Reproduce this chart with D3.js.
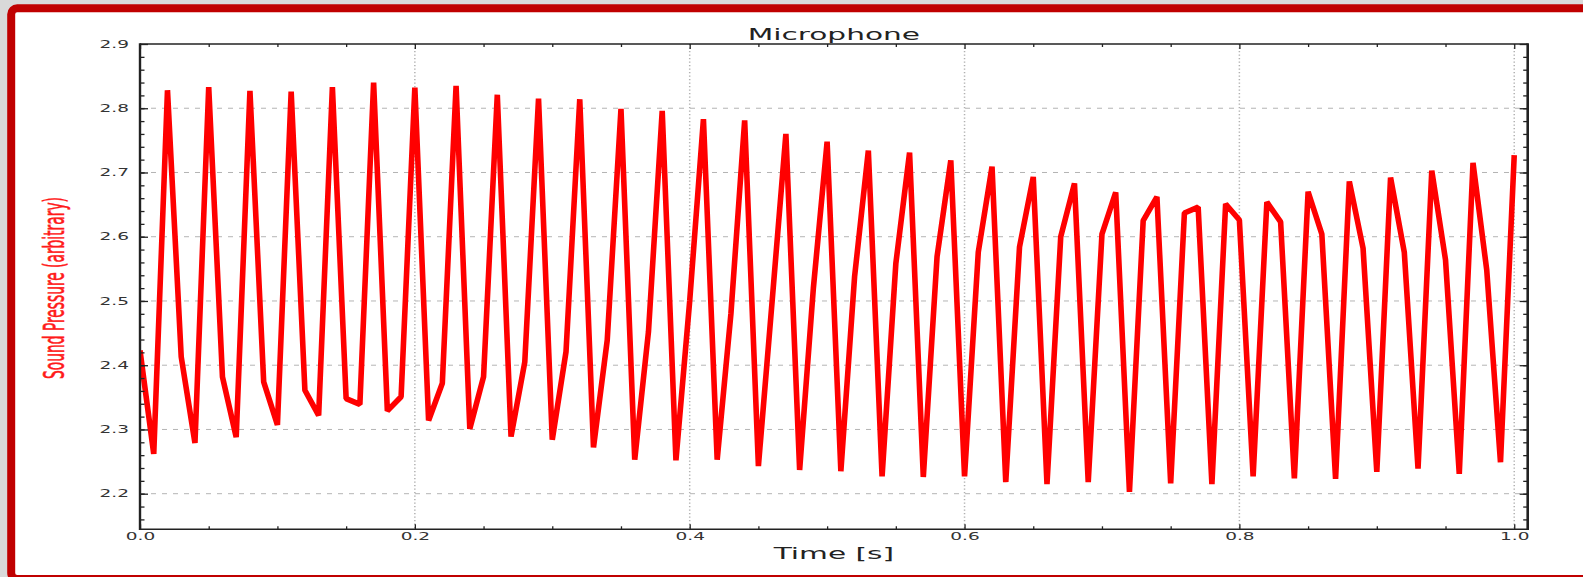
<!DOCTYPE html>
<html>
<head>
<meta charset="utf-8">
<script src="https://cdn.jsdelivr.net/npm/d3@7"></script>
<style>
  html, body { margin: 0; padding: 0; background: #d9d9d9; overflow: hidden; }
  svg { display: block; }
  text { font-family: "DejaVu Sans", sans-serif; }
</style>
</head>
<body>
<svg id="chart" width="1583" height="577"></svg>
<script>
// ---- Data ----
const timeValues = [
  0.00,0.01,0.02,0.03,0.04,0.05,0.06,0.07,0.08,0.09,
  0.10,0.11,0.12,0.13,0.14,0.15,0.16,0.17,0.18,0.19,
  0.20,0.21,0.22,0.23,0.24,0.25,0.26,0.27,0.28,0.29,
  0.30,0.31,0.32,0.33,0.34,0.35,0.36,0.37,0.38,0.39,
  0.40,0.41,0.42,0.43,0.44,0.45,0.46,0.47,0.48,0.49,
  0.50,0.51,0.52,0.53,0.54,0.55,0.56,0.57,0.58,0.59,
  0.60,0.61,0.62,0.63,0.64,0.65,0.66,0.67,0.68,0.69,
  0.70,0.71,0.72,0.73,0.74,0.75,0.76,0.77,0.78,0.79,
  0.80,0.81,0.82,0.83,0.84,0.85,0.86,0.87,0.88,0.89,
  0.90,0.91,0.92,0.93,0.94,0.95,0.96,0.97,0.98,0.99,
  1.00
];
const pressureValues = [
  2.423,2.262,2.828,2.413,2.279,2.833,2.382,2.288,2.827,2.374,
  2.307,2.826,2.361,2.322,2.833,2.348,2.339,2.840,2.329,2.351,
  2.832,2.314,2.372,2.835,2.301,2.382,2.821,2.289,2.405,2.815,
  2.284,2.421,2.814,2.272,2.439,2.799,2.253,2.452,2.796,2.252,
  2.500,2.783,2.253,2.480,2.781,2.243,2.500,2.760,2.237,2.520,
  2.748,2.235,2.538,2.734,2.227,2.558,2.731,2.226,2.569,2.719,
  2.227,2.576,2.709,2.218,2.584,2.693,2.215,2.600,2.683,2.218,
  2.604,2.669,2.203,2.625,2.662,2.216,2.637,2.646,2.215,2.651,
  2.626,2.227,2.654,2.623,2.224,2.670,2.604,2.223,2.686,2.582,
  2.234,2.692,2.576,2.239,2.703,2.564,2.231,2.715,2.548,2.249,
  2.727
];
const xMajorTicks = [0.0, 0.2, 0.4, 0.6, 0.8, 1.0];
const xTickLabels = ["0.0", "0.2", "0.4", "0.6", "0.8", "1.0"];
const xMinorTicks = [0.05,0.10,0.15,0.25,0.30,0.35,0.45,0.50,0.55,0.65,0.70,0.75,0.85,0.90,0.95];
const yMajorTicks = [2.2, 2.3, 2.4, 2.5, 2.6, 2.7, 2.8, 2.9];
const yTickLabels = ["2.2", "2.3", "2.4", "2.5", "2.6", "2.7", "2.8", "2.9"];
const yMinorTicks = [2.16,2.18,2.20,2.22,2.24,2.26,2.28,2.30,2.32,2.34,2.36,2.38,2.40,2.42,2.44,2.46,2.48,2.50,
  2.52,2.54,2.56,2.58,2.60,2.62,2.64,2.66,2.68,2.70,2.72,2.74,2.76,2.78,2.80,2.82,2.84,2.86,2.88];
const titleText = "Microphone";
const xLabelText = "Time [s]";
const yLabelText = "Sound Pressure (arbitrary)";

// ---- Layout ----
const S = 1.85; // horizontal stretch of text seen in the reference
const L = 140, R = 1527.7, T = 44, B = 529.3;
const svg = d3.select("#chart");

// frame
svg.append("rect").attr("x", 0).attr("y", 0).attr("width", 1583).attr("height", 577).attr("fill", "#d9d9d9");
svg.append("rect")
  .attr("x", 11.2).attr("y", 8.2).attr("width", 1590).attr("height", 570.8)
  .attr("rx", 6).attr("ry", 6)
  .attr("fill", "#ffffff").attr("stroke", "#c00000").attr("stroke-width", 8);

const x = d3.scaleLinear().domain([0, 1.0098]).range([L, R]);
const y = d3.scaleLinear().domain([2.2, 2.9]).range([493.7, T]);
const yBottom = y.invert(B);
y.domain([yBottom, 2.9]).range([B, T]);

// grid
const grid = svg.append("g");
grid.selectAll("line.hg").data(yMajorTicks.filter(v => v < 2.9)).join("line")
  .attr("x1", L).attr("x2", R).attr("y1", d => y(d)).attr("y2", d => y(d))
  .attr("stroke", "#b4b4b4").attr("stroke-width", 1).attr("stroke-dasharray", "5,6");
grid.selectAll("line.vg").data(xMajorTicks.filter(v => v > 0)).join("line")
  .attr("x1", d => x(d)).attr("x2", d => x(d)).attr("y1", T).attr("y2", B)
  .attr("stroke", "#b0b0b0").attr("stroke-width", 1.5).attr("stroke-dasharray", "1.3,2.2");

// clip
svg.append("clipPath").attr("id", "plotclip").append("rect")
  .attr("x", L).attr("y", T).attr("width", R - L).attr("height", B - T);

// data line
const pts = timeValues.map((t, i) => [t, pressureValues[i]]);
const line = d3.line().x(d => x(d[0])).y(d => y(d[1]));
svg.append("path").datum(pts)
  .attr("clip-path", "url(#plotclip)")
  .attr("d", line)
  .attr("fill", "none").attr("stroke", "#ff0000").attr("stroke-width", 5.6)
  .attr("stroke-linejoin", "bevel");

// axes (inward ticks)
function styleAxis(g) {
  g.select(".domain").remove();
  g.selectAll(".tick line").attr("stroke", "#222").attr("stroke-width", 1.3);
}
const xFmt = d => xTickLabels[xMajorTicks.indexOf(d)];
const yFmt = d => yTickLabels[yMajorTicks.indexOf(d)];

const gxB = svg.append("g").attr("transform", `translate(0,${B})`)
  .call(d3.axisBottom(x).tickValues(xMajorTicks).tickSizeInner(-5).tickSizeOuter(0).tickPadding(4).tickFormat(xFmt));
styleAxis(gxB);
gxB.selectAll("text").attr("font-size", 10).attr("fill", "#333").attr("transform", `scale(${S},1)`);
const gxBm = svg.append("g").attr("transform", `translate(0,${B})`)
  .call(d3.axisBottom(x).tickValues(xMinorTicks).tickSizeInner(-3).tickSizeOuter(0).tickFormat(""));
styleAxis(gxBm);

const gxT = svg.append("g").attr("transform", `translate(0,${T})`)
  .call(d3.axisTop(x).tickValues(xMajorTicks).tickSizeInner(-5).tickSizeOuter(0).tickFormat(""));
styleAxis(gxT);
const gxTm = svg.append("g").attr("transform", `translate(0,${T})`)
  .call(d3.axisTop(x).tickValues(xMinorTicks).tickSizeInner(-3).tickSizeOuter(0).tickFormat(""));
styleAxis(gxTm);

const gyL = svg.append("g").attr("transform", `translate(${L},0)`)
  .call(d3.axisLeft(y).tickValues(yMajorTicks).tickSizeInner(-8).tickSizeOuter(0).tickPadding(11).tickFormat(yFmt));
styleAxis(gyL);
gyL.selectAll("text").attr("font-size", 10).attr("fill", "#333")
  .attr("x", -11 / S).attr("transform", `scale(${S},1)`);
const gyLm = svg.append("g").attr("transform", `translate(${L},0)`)
  .call(d3.axisLeft(y).tickValues(yMinorTicks).tickSizeInner(-4.5).tickSizeOuter(0).tickFormat(""));
styleAxis(gyLm);

const gyR = svg.append("g").attr("transform", `translate(${R},0)`)
  .call(d3.axisRight(y).tickValues(yMajorTicks).tickSizeInner(-8).tickSizeOuter(0).tickFormat(""));
styleAxis(gyR);
const gyRm = svg.append("g").attr("transform", `translate(${R},0)`)
  .call(d3.axisRight(y).tickValues(yMinorTicks).tickSizeInner(-4.5).tickSizeOuter(0).tickFormat(""));
styleAxis(gyRm);

// spines
svg.append("line").attr("x1", L).attr("x2", R).attr("y1", T).attr("y2", T).attr("stroke", "#222").attr("stroke-width", 1.6);
svg.append("line").attr("x1", L).attr("x2", R).attr("y1", B).attr("y2", B).attr("stroke", "#222").attr("stroke-width", 1.6);
svg.append("line").attr("x1", L).attr("x2", L).attr("y1", T - 0.8).attr("y2", B + 0.8).attr("stroke", "#222").attr("stroke-width", 2.4);
svg.append("line").attr("x1", R).attr("x2", R).attr("y1", T - 0.8).attr("y2", B + 0.8).attr("stroke", "#222").attr("stroke-width", 2.6);

// title and labels
const cx = (L + R) / 2;
svg.append("text").attr("transform", `translate(${cx},39.5) scale(${S},1)`)
  .attr("text-anchor", "middle").attr("font-size", 16).attr("fill", "#222").text(titleText);
svg.append("text").attr("transform", `translate(${cx},558.5) scale(${S},1)`)
  .attr("text-anchor", "middle").attr("font-size", 16).attr("fill", "#222").text(xLabelText);
svg.append("text").attr("transform", `translate(64,288) scale(2.0,1) rotate(-90)`)
  .attr("text-anchor", "middle").attr("font-size", 13.8).attr("fill", "#ff1a1a")
  .attr("stroke", "#ff1a1a").attr("stroke-width", 0.3).text(yLabelText);
</script>
</body>
</html>
